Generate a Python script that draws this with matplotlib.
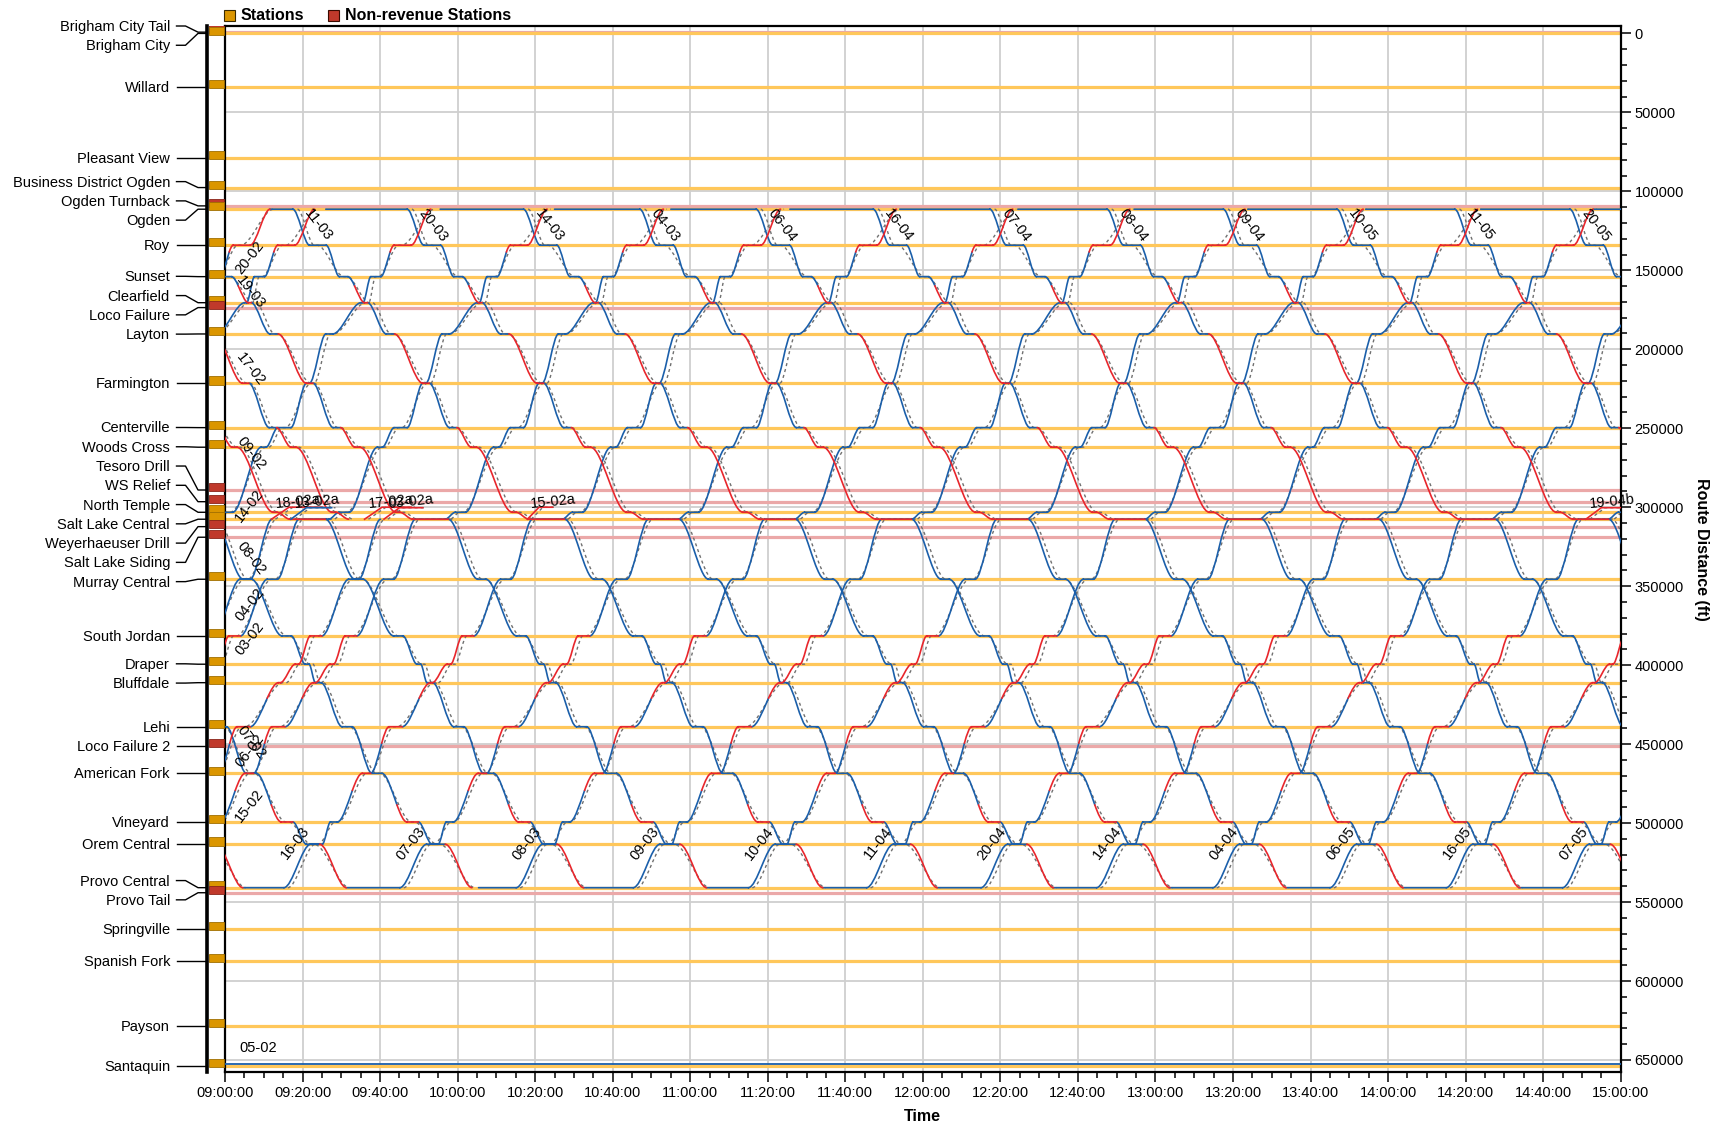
import matplotlib
matplotlib.use("Agg")
import matplotlib.pyplot as plt
from matplotlib.ticker import MultipleLocator, FuncFormatter
from matplotlib.patches import Rectangle, PathPatch
from matplotlib.lines import Line2D
from matplotlib.path import Path

plt.rcParams['font.family'] = ['Liberation Sans', 'DejaVu Sans']

# ---------------- data ----------------
station_names = ["Brigham City Tail", "Brigham City", "Willard", "Pleasant View",
                 "Business District Ogden", "Ogden Turnback", "Ogden", "Roy", "Sunset",
                 "Clearfield", "Loco Failure", "Layton", "Farmington", "Centerville",
                 "Woods Cross", "Tesoro Drill", "WS Relief", "North Temple",
                 "Salt Lake Central", "Weyerhaeuser Drill", "Salt Lake Siding",
                 "Murray Central", "South Jordan", "Draper", "Bluffdale", "Lehi",
                 "Loco Failure 2", "American Fork", "Vineyard", "Orem Central",
                 "Provo Central", "Provo Tail", "Springville", "Spanish Fork", "Payson",
                 "Santaquin"]
station_ft = [-800, 0, 33700, 79000, 97600, 109200, 111300, 134100, 154000, 170500,
              173600, 190300, 221500, 249600, 262000, 289100, 296500, 303200, 307600,
              312300, 319000, 345600, 381500, 399400, 411100, 439000, 451200, 468500,
              499300, 513400, 540900, 544100, 567000, 587300, 628300, 653700]
station_nonrev = [1, 0, 0, 0, 0, 1, 0, 0, 0, 0, 1, 0, 0, 0, 0, 1, 1, 0, 0, 1, 1, 0, 0, 0,
                  0, 0, 1, 0, 0, 0, 0, 1, 0, 0, 0, 0]

# southbound (Ogden -> Provo) running pattern, minutes after Ogden departure
sb_stops = ["Ogden", "Roy", "Sunset", "Clearfield", "Layton", "Farmington", "Centerville",
            "Woods Cross", "North Temple", "Salt Lake Central", "Murray Central",
            "South Jordan", "Draper", "Bluffdale", "Lehi", "American Fork", "Vineyard",
            "Orem Central", "Provo Central"]
sb_arr = [0.0, 4.3, 12.0, 18.5, 24.1, 33.5, 40.4, 46.0, 56.6, 60.9, 77.7, 87.7, 93.7,
          96.3, 103.2, 110.9, 119.9, 126.4, 136.7]
sb_dep = [0.0, 8.6, 14.2, 19.3, 26.2, 35.2, 42.3, 47.3, 57.6, 70.1, 79.8, 90.1, 94.7,
          97.8, 105.8, 113.5, 122.9, 129.8, 136.7]
sb_late = [0, 0, 0.6, 0, 1, 0, 1, 1, 1, 0, 0, 0, 0, 0, 0, 0.4, 0, 1]
sb_sched_arr = [0.0, 5.5, 13.2, 19.7, 25.3, 34.7, 41.6, 47.2, 57.8, 62.1, 78.9, 88.9,
                94.9, 97.5, 104.4, 112.1, 121.1, 127.6, 137.5]
sb_sched_dep = [1.2, 6.3, 14.0, 20.5, 26.1, 35.5, 42.4, 48.0, 58.6, 70.9, 79.7, 89.7,
                95.7, 98.3, 105.2, 112.9, 121.9, 128.4, 137.5]

# northbound (Provo -> Ogden) running pattern, minutes after Provo departure
nb_stops = ["Provo Central", "Orem Central", "Vineyard", "American Fork", "Lehi",
            "Bluffdale", "Draper", "South Jordan", "Murray Central", "Salt Lake Central",
            "North Temple", "Woods Cross", "Centerville", "Farmington", "Layton",
            "Clearfield", "Sunset", "Roy", "Ogden"]
nb_arr = [0.0, 6.9, 12.0, 20.2, 27.1, 37.8, 42.1, 46.0, 55.9, 64.1, 74.4, 84.3, 88.6,
          96.0, 101.0, 110.1, 112.6, 118.6, 128.1]
nb_dep = [0.0, 9.9, 13.8, 22.4, 30.5, 38.3, 43.0, 49.0, 58.5, 71.8, 77.0, 85.6, 92.0,
          96.8, 102.8, 110.6, 115.2, 123.0, 128.1]
nb_late = [0, 0, 0.4, 0.4, 0.4, 1, 1, 0, 0, 0, 0, 0, 0, 0, 0, 0, 0.3, 1]
nb_sched_arr = [0.0, 8.1, 13.2, 21.4, 28.3, 39.0, 43.3, 47.2, 57.1, 65.3, 75.6, 85.5,
                89.8, 97.2, 102.2, 111.3, 113.8, 119.8, 129.0]
nb_sched_dep = [1.0, 8.9, 14.0, 22.2, 29.1, 39.8, 44.1, 48.0, 57.9, 73.0, 76.4, 86.3,
                90.6, 98.0, 103.0, 112.1, 114.6, 120.6, 129.0]

# trips (start = departure from the first terminal; layover = minutes standing there before)
sb_ids = ["16-02", "07-02", "08-02", "09-02", "17-02", "19-03", "11-03", "20-03", "14-03",
          "04-03", "06-04", "16-04", "07-04", "08-04", "09-04", "10-05", "11-05", "20-05",
          "14-05"]
sb_start = ["06:47.9", "07:14.6", "07:47.0", "08:15.8", "08:31.0", "08:47.5", "09:17.5",
            "09:47.0", "10:17.0", "10:47.0", "11:17.0", "11:47.2", "12:17.3", "12:47.5",
            "13:17.5", "13:46.8", "14:17.2", "14:46.9", "15:17.0"]
sb_layover = [0, 0, 0, 0, 0, 0, 6.0, 21.0, 21.5, 22.0, 22.0, 21.5, 23.2, 23.0, 23.0, 23.0,
              23.0, 23.0, 24.0]
sb_end = ["Provo Central", "Provo Central", "Provo Central", "Provo Central",
          "Salt Lake Central", "Provo Central", "Provo Central", "Provo Central",
          "Provo Central", "Provo Central", "Provo Central", "Provo Central",
          "Provo Central", "Provo Central", "Provo Central", "Provo Central",
          "Provo Central", "Provo Central", "Provo Central"]
sb_show_label = [0, 1, 1, 1, 1, 1, 1, 1, 1, 1, 1, 1, 1, 1, 1, 1, 1, 1, 0]

nb_ids = ["20-02", "", "14-02", "04-02", "03-02", "06-02", "15-02", "16-03", "07-03",
          "08-03", "09-03", "10-04", "11-04", "20-04", "14-04", "04-04", "06-05", "16-05",
          "07-05"]
nb_start = ["07:03.5", "07:15.0", "07:45.0", "08:08.0", "08:15.0", "08:36.0", "08:45.0",
            "09:15.2", "09:45.1", "10:15.1", "10:45.3", "11:15.0", "11:45.5", "12:15.0",
            "12:44.8", "13:14.8", "13:45.0", "14:15.0", "14:45.0"]
nb_layover = [0, 0, 0, 0, 0, 0, 0, 10.6, 13.8, 9.7, 12.8, 10.8, 11.3, 11.3, 11.3, 11.3,
              11.3, 11.3, 11.3]
nb_end = ["Ogden", "Ogden", "Ogden", "Salt Lake Central", "Ogden", "Salt Lake Central",
          "Ogden", "Ogden", "Ogden", "Ogden", "Ogden", "Ogden", "Ogden", "Ogden", "Ogden",
          "Ogden", "Ogden", "Ogden", "Ogden"]

# short non-revenue moves near Salt Lake Central
move_ids = ["18-02a", "13-02a", "17-02a", "03-02a", "15-02a", "19-04b"]
move_times = [["09:12.0", "09:16.5", "09:25.0"], ["09:17.0", "09:21.0", "09:27.5"],
              ["09:36.0", "09:40.5", "09:48.0"], ["09:41.0", "09:45.0", "09:51.0"],
              ["10:18.0", "10:21.0", "10:24.5"], ["14:51.0", "14:55.0", "15:00.0"]]
move_ft = [[307600, 300000, 300000], [307600, 300300, 300300], [307600, 300000, 300000],
           [307600, 300300, 300300], [307600, 300000, 300000], [307600, 300300, 300300]]
move_late = [1, 0, 1, 1, 1, 1]

parked_id = "05-02"
parked_ft = 652300
parked_times = ["09:00.0", "15:00.0"]

# ---------------- helpers ----------------
pos = dict(zip(station_names, station_ft))


def tmin(s):
    h, m = s.split(":")
    return int(h) * 60 + float(m) - 540.0


BLUE = '#1B5FAA'
RED = '#E8262C'
ORANGE_LINE = '#FFC75A'
PINK_LINE = '#EBA8A8'
BOX_OR = '#DB9600'
BOX_OR_E = '#A06E00'
BOX_RD = '#C0392B'
BOX_RD_E = '#8A2419'
SCHED = '#707070'

W, H = 1721, 1126
L, R, T, B = 225, 1620.7, 26, 1072.3
YTOP, YBOT = -4700, 657800

fig = plt.figure(figsize=(W / 100, H / 100), dpi=100)
ax = fig.add_axes([L / W, 1 - B / H, (R - L) / W, (B - T) / H])
ax.set_xlim(0, 360)
ax.set_ylim(YBOT, YTOP)

ax.xaxis.set_major_locator(MultipleLocator(20))
ax.xaxis.set_minor_locator(MultipleLocator(5))
ax.yaxis.set_major_locator(MultipleLocator(50000))
ax.yaxis.set_minor_locator(MultipleLocator(10000))
ax.grid(True, which='major', color='#CFCFCF', lw=1.3, zorder=0)
ax.set_axisbelow(True)

for nm, ft, nr in sorted(zip(station_names, station_ft, station_nonrev), key=lambda r: -r[2]):
    ax.axhline(ft, color=PINK_LINE if nr else ORANGE_LINE, lw=2.3, zorder=1)

KC = 0.32  # curve tangent length (share of hop duration)


def bez(a, b):
    dx = b[0] - a[0]
    return [a, (a[0] + KC * dx, a[1]), (b[0] - KC * dx, b[1]), b]


def split_bez(p, t):
    def lerp(u, v):
        return (u[0] + (v[0] - u[0]) * t, u[1] + (v[1] - u[1]) * t)
    p01, p12, p23 = lerp(p[0], p[1]), lerp(p[1], p[2]), lerp(p[2], p[3])
    p012, p123 = lerp(p01, p12), lerp(p12, p23)
    m = lerp(p012, p123)
    return [p[0], p01, p012, m], [m, p123, p23, p[3]]


paths = {BLUE: ([], []), RED: ([], [])}


def add_line(col, a, b):
    v, c = paths[col]
    v += [a, b]
    c += [Path.MOVETO, Path.LINETO]


def add_curve(col, pts):
    v, c = paths[col]
    v += pts
    c += [Path.MOVETO, Path.CURVE4, Path.CURVE4, Path.CURVE4]


sched_paths = []
labels = []


def do_trip(stops, arr, dep, late, sarr, sdep, t0, end, layover):
    n = stops.index(end) + 1
    y0 = pos[stops[0]]
    if layover > 0:
        add_line(BLUE, (t0 - layover, y0), (t0, y0))
    for i in range(n):
        y = pos[stops[i]]
        if 0 < i < n - 1 and dep[i] > arr[i]:
            add_line(RED if late[i - 1] > 0 else BLUE, (t0 + arr[i], y), (t0 + dep[i], y))
        if i < n - 1:
            p = bez((t0 + dep[i], y), (t0 + arr[i + 1], pos[stops[i + 1]]))
            f = late[i]
            if f <= 0:
                add_curve(BLUE, p)
            elif f >= 0.99:
                add_curve(RED, p)
            else:
                p1, p2 = split_bez(p, 1 - f)
                add_curve(BLUE, p1)
                add_curve(RED, p2)
    sv = [(t0 + sdep[0], pos[stops[0]])]
    sc = [Path.MOVETO]
    for i in range(1, n):
        y = pos[stops[i]]
        q = bez(sv[-1], (t0 + sarr[i], y))
        sv += q[1:]
        sc += [Path.CURVE4] * 3
        if i < n - 1:
            sv.append((t0 + sdep[i], y))
            sc.append(Path.LINETO)
    sched_paths.append(Path(sv, sc))
    poly = []
    for i in range(n):
        y = pos[stops[i]]
        poly.append((t0 + arr[i], y))
        poly.append((t0 + dep[i], y))
    return poly


def entry_point(poly):
    if poly[0][0] >= 0:
        return poly[0], False
    for (x1, y1), (x2, y2) in zip(poly[:-1], poly[1:]):
        if x1 < 0 <= x2:
            if x2 == x1:
                return (0, y2), True
            return (0, y1 + (y2 - y1) * (0 - x1) / (x2 - x1)), True
    return None, True


for tid, st, en, show, lay in zip(sb_ids, sb_start, sb_end, sb_show_label, sb_layover):
    poly = do_trip(sb_stops, sb_arr, sb_dep, sb_late, sb_sched_arr, sb_sched_dep,
                   tmin(st), en, lay)
    p, edge = entry_point(poly[1:])
    if p is not None and show and tid and p[0] <= 360:
        labels.append((tid, p, 'sb', edge))

for tid, st, en, lay in zip(nb_ids, nb_start, nb_end, nb_layover):
    poly = do_trip(nb_stops, nb_arr, nb_dep, nb_late, nb_sched_arr, nb_sched_dep,
                   tmin(st), en, lay)
    p, edge = entry_point(poly[1:])
    if p is not None and tid and p[0] <= 360:
        labels.append((tid, p, 'nb', edge))

for sp in sched_paths:
    ax.add_patch(PathPatch(sp, fill=False, edgecolor=SCHED, lw=1.0,
                           ls=(0, (2.2, 2.2)), zorder=2))

for col, (v, c) in paths.items():
    if v:
        ax.add_patch(PathPatch(Path(v, c), fill=False, edgecolor=col, lw=1.2,
                               zorder=3 if col == BLUE else 4, capstyle='round'))

# non-revenue moves
for mid, mt, mf, ml in zip(move_ids, move_times, move_ft, move_late):
    xs = [tmin(v) for v in mt]
    ax.plot(xs, mf, color=RED if ml else BLUE, lw=1.2, zorder=4)
    ax.plot([x + 1.0 for x in xs], mf, color=SCHED, lw=1.0, ls=(0, (2.2, 2.2)), zorder=2)
    ax.annotate(mid, (xs[0], mf[0]), xytext=(2, 6), textcoords='offset points',
                fontsize=10.5, rotation=6, ha='left', va='bottom', zorder=5,
                annotation_clip=False)

# parked train
px = [tmin(v) for v in parked_times]
ax.plot(px, [parked_ft, parked_ft], color=BLUE, lw=1.3, zorder=6)
ax.annotate(parked_id, (px[0], parked_ft), xytext=(24, 6), textcoords='offset points',
            fontsize=10.5, ha='center', va='bottom', zorder=5)

# trip labels
for tid, p, d, edge in labels:
    if d == 'sb':
        off = (18.5, -11.5)
        rot = -52
    else:
        off = (17.5, 5) if edge else (8, 32)
        rot = 52
    ax.annotate(tid, p, xytext=off, textcoords='offset points', fontsize=10.5,
                rotation=rot, ha='center', va='center', zorder=5,
                annotation_clip=False)

# axes styling
for sp in ax.spines.values():
    sp.set_linewidth(1.6)
    sp.set_color('black')
ax.yaxis.tick_right()
ax.yaxis.set_label_position('right')
ax.tick_params(axis='both', which='major', length=7, width=1.1, labelsize=10.5, pad=3)
ax.tick_params(axis='both', which='minor', length=4, width=1.1)
ax.tick_params(axis='y', which='both', left=False, right=True)
ax.xaxis.set_major_formatter(FuncFormatter(
    lambda v, p: f"{9 + int(round(v)) // 60:02d}:{int(round(v)) % 60:02d}:00"))
ax.yaxis.set_major_formatter(FuncFormatter(lambda v, p: f"{int(v)}"))
ax.set_xlabel("Time", fontsize=11.5, fontweight='bold', labelpad=6)
ax.set_ylabel("Route Distance (ft)", fontsize=11.5, fontweight='bold', rotation=270,
              labelpad=18)

# station panel on the left
ax2 = fig.add_axes([207 / W, 1 - B / H, (L - 207) / W, (B - T) / H])
ax2.set_xlim(0, 1)
ax2.set_ylim(YBOT, YTOP)
ax2.set_xticks([]); ax2.set_yticks([])
for k, sp in ax2.spines.items():
    sp.set_visible(k == 'left')
ax2.spines['left'].set_linewidth(2.6)
ax2.patch.set_alpha(0)
for ft, nr in zip(station_ft, station_nonrev):
    ax2.add_patch(Rectangle((0.09, ft - 4300), 0.86, 5100,
                            facecolor=BOX_RD if nr else BOX_OR,
                            edgecolor=BOX_RD_E if nr else BOX_OR_E, lw=0.6, zorder=2))


def to_px(ft):
    return T + (ft - YTOP) / (YBOT - YTOP) * (B - T)


gap = 12200
order = sorted(range(len(station_ft)), key=lambda i: station_ft[i])
clusters = []
for i in order:
    clusters.append([[i], station_ft[i]])
    while len(clusters) > 1:
        a, b = clusters[-2], clusters[-1]
        a_end = a[1] + (len(a[0]) - 1) * gap
        if b[1] < a_end + gap:
            idx = a[0] + b[0]
            mean = sum(station_ft[j] for j in idx) / len(idx)
            clusters[-2:] = [[idx, mean - (len(idx) - 1) * gap / 2]]
        else:
            break
lab_ft = {}
prev = None
for idx, start in clusters:
    for k, j in enumerate(idx):
        v = start + k * gap
        v = max(v, YTOP) if prev is None else max(v, prev + gap)
        lab_ft[j] = v
        prev = v

for j, nm in enumerate(station_names):
    ly = to_px(lab_ft[j])
    sy = to_px(station_ft[j])
    fig.text(170 / W, 1 - (ly + 1) / H, nm, ha='right', va='center', fontsize=10.5)
    fig.add_artist(Line2D([176.5 / W, 185.5 / W, 198 / W, 207 / W],
                          [1 - ly / H, 1 - ly / H, 1 - sy / H, 1 - sy / H],
                          color='black', lw=1.0))

# legend
fig.add_artist(Rectangle((224 / W, 1 - 21 / H), 11 / W, 11 / H, transform=fig.transFigure,
                         facecolor=BOX_OR, edgecolor='#3a2a00', lw=0.8))
fig.text(241 / W, 1 - 15.5 / H, "Stations", fontsize=11.5, fontweight='bold',
         ha='left', va='center')
fig.add_artist(Rectangle((328 / W, 1 - 21 / H), 11 / W, 11 / H, transform=fig.transFigure,
                         facecolor=BOX_RD, edgecolor='#3a0a00', lw=0.8))
fig.text(345 / W, 1 - 15.5 / H, "Non-revenue Stations", fontsize=11.5, fontweight='bold',
         ha='left', va='center')

fig.savefig("out.png", dpi=100)
